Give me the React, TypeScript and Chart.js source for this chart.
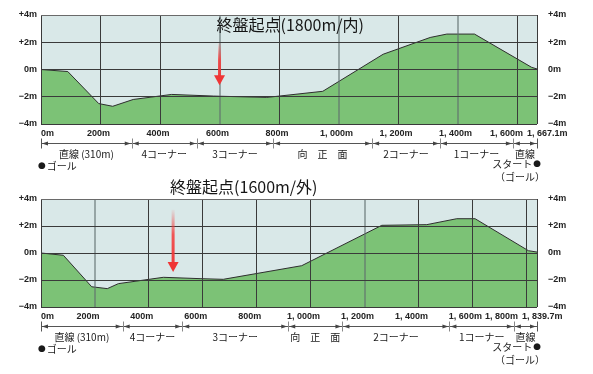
import React, { useEffect, useRef } from 'react';
import { Chart, registerables } from 'chart.js';

Chart.register(...registerables);

// ---- Course A: 終盤起点 1800m / 内 ----
const DIST_A = [0, 90, 194, 241, 310, 439, 580, 759, 947, 1150, 1308, 1364, 1457, 1649, 1667.1];
const ELEV_A = [0, -0.15, -2.5, -2.7, -2.2, -1.83, -1.95, -2.05, -1.6, 1.12, 2.35, 2.6, 2.6, 0.16, 0.04];
const GRID_A = [0, 200, 400, 600, 800, 1000, 1200, 1400, 1600];
const MAX_A = 1667.1;
const GREY_A = [600, 1000, 1400];
const XLABELS_A = ['0m', '200m', '400m', '600m', '800m', '1, 000m', '1, 200m', '1, 400m', '1, 600m', '1, 667.1m'];
const SECTIONS_A = [0, 305, 524, 780, 1113, 1341, 1586, 1667.1];
const TITLE_A = '終盤起点(1800m/内)';
const MARK_A = 600;

// ---- Course B: 終盤起点 1600m / 外 ----
const DIST_B = [0, 83, 188, 246, 287, 454, 590, 676, 967, 1264, 1431, 1542, 1610, 1808, 1839.7];
const ELEV_B = [0, -0.17, -2.5, -2.64, -2.27, -1.8, -1.9, -1.95, -0.94, 2.05, 2.1, 2.54, 2.54, 0.17, 0.07];
const GRID_B = [0, 200, 400, 600, 800, 1000, 1200, 1400, 1600, 1800];
const MAX_B = 1839.7;
const GREY_B = [200, 1200];
const XLABELS_B = ['0m', '200m', '400m', '600m', '800m', '1, 000m', '1, 200m', '1, 400m', '1, 600m', '1, 800m', '1, 839.7m'];
const SECTIONS_B = [0, 303, 524, 917, 1118, 1515, 1754, 1839.7];
const TITLE_B = '終盤起点(1600m/外)';
const MARK_B = 490;

// ---- shared ----
const SECTION_NAMES = ['直線 (310m)', '4コーナー', '3コーナー', '向　正　面', '2コーナー', '1コーナー', '直線'];
const Y_TICKS = [4, 2, 0, -2, -4];
const Y_LABELS = ['+4m', '+2m', '0m', '−2m', '−4m'];

const JP = '"Noto Sans CJK JP", "Noto Sans", sans-serif';
const NUM = 'bold 9px "Liberation Sans", Arial, sans-serif';
const DOT = '9px "DejaVu Sans", sans-serif';

type Course = {
  dist: number[];
  elev: number[];
  grid: number[];
  max: number;
  grey: number[];
  xlabels: string[];
  sections: number[];
  title: string;
  mark: number;
  arrowFrom: number;
  arrowTo: number;
  titleY: number;
  tickShift: number;
  lastOffset: number;
  width: number;
  height: number;
  padding: { top: number; bottom: number; left: number; right: number };
};

function makePlugin(p: Course) {
  return {
    id: 'courseDecor',
    beforeDraw(chart: any) {
      const { ctx, chartArea: a } = chart;
      ctx.save();
      ctx.fillStyle = '#d9e8e8';
      ctx.fillRect(a.left, a.top, a.right - a.left, a.bottom - a.top);
      ctx.restore();
    },
    afterDraw(chart: any) {
      const { ctx, chartArea: a, scales } = chart;
      const xs = scales.x;
      const ys = scales.y;
      ctx.save();

      // title
      const ax = xs.getPixelForValue(p.mark);
      ctx.font = `16px ${JP}`;
      ctx.fillStyle = '#151515';
      ctx.textAlign = 'left';
      ctx.textBaseline = 'middle';
      ctx.fillText(p.title, ax - 3, p.titleY);

      // arrow
      const y0 = ys.getPixelForValue(p.arrowFrom);
      const y1 = ys.getPixelForValue(p.arrowTo);
      const g = ctx.createLinearGradient(0, y0, 0, y1);
      g.addColorStop(0, 'rgba(244,70,70,0.05)');
      g.addColorStop(0.4, 'rgba(244,60,60,0.85)');
      g.addColorStop(1, '#ef3535');
      ctx.fillStyle = g;
      ctx.fillRect(ax - 1.5, y0, 3, y1 - y0 - 9);
      ctx.beginPath();
      ctx.moveTo(ax - 5.5, y1 - 10);
      ctx.lineTo(ax + 5.5, y1 - 10);
      ctx.lineTo(ax, y1);
      ctx.closePath();
      ctx.fillStyle = '#ef3535';
      ctx.fill();

      // y labels
      ctx.font = NUM;
      ctx.fillStyle = '#222';
      ctx.textBaseline = 'middle';
      Y_TICKS.forEach((v, i) => {
        const y = ys.getPixelForValue(v);
        ctx.textAlign = 'right';
        ctx.fillText(Y_LABELS[i], a.left - 4, y);
        ctx.textAlign = 'left';
        ctx.fillText(Y_LABELS[i], a.right + 11, y);
      });

      // x labels
      const vals = [...p.grid, p.max];
      const ly = a.bottom + 10;
      const n = vals.length;
      const lastX = a.right - p.lastOffset;
      vals.forEach((v, i) => {
        const txt = p.xlabels[i];
        const px = xs.getPixelForValue(v);
        if (i === 0) {
          ctx.textAlign = 'left';
          ctx.fillText(txt, a.left, ly);
        } else if (i === n - 1) {
          ctx.textAlign = 'left';
          ctx.fillText(txt, lastX, ly);
        } else if (i === n - 2) {
          ctx.textAlign = 'right';
          ctx.fillText(txt, lastX - 4, ly);
        } else {
          ctx.textAlign = 'center';
          ctx.fillText(txt, px + p.tickShift, ly);
        }
      });

      // sections line
      const sy = Math.round(a.bottom + 19) + 0.5;
      ctx.strokeStyle = '#555';
      ctx.lineWidth = 1;
      ctx.beginPath();
      ctx.moveTo(a.left, sy);
      ctx.lineTo(a.right, sy);
      ctx.stroke();
      const bpx = p.sections.map((v) => xs.getPixelForValue(v));
      ctx.fillStyle = '#444';
      bpx.forEach((x, i) => {
        ctx.strokeStyle = i === 0 || i === bpx.length - 1 ? '#555' : '#888';
        ctx.beginPath();
        ctx.moveTo(Math.round(x) + 0.5, sy - 5);
        ctx.lineTo(Math.round(x) + 0.5, sy + 5);
        ctx.stroke();
        if (i < bpx.length - 1) {
          const l = x + 1;
          ctx.beginPath();
          ctx.moveTo(l, sy);
          ctx.lineTo(l + 6, sy - 2);
          ctx.lineTo(l + 6, sy + 2);
          ctx.closePath();
          ctx.fill();
        }
        if (i > 0) {
          const r = x - 1;
          ctx.beginPath();
          ctx.moveTo(r, sy);
          ctx.lineTo(r - 6, sy - 2);
          ctx.lineTo(r - 6, sy + 2);
          ctx.closePath();
          ctx.fill();
        }
      });

      ctx.font = `10px ${JP}`;
      ctx.fillStyle = '#1a1a1a';
      ctx.textAlign = 'center';
      ctx.textBaseline = 'middle';
      SECTION_NAMES.forEach((name, i) => {
        const cx = (bpx[i] + bpx[i + 1]) / 2;
        ctx.fillText(name, cx, a.bottom + 30);
      });

      // goal / start notes
      ctx.textAlign = 'left';
      ctx.font = DOT;
      ctx.fillText('●', a.left - 3, a.bottom + 42);
      const dw = ctx.measureText('●').width;
      ctx.font = `10px ${JP}`;
      ctx.fillText('ゴール', a.left - 3 + dw + 1, a.bottom + 42);

      ctx.textAlign = 'right';
      ctx.font = DOT;
      ctx.fillText('●', a.right + 4, a.bottom + 40);
      const dw2 = ctx.measureText('●').width;
      ctx.font = `10px ${JP}`;
      ctx.fillText('スタート', a.right + 4 - dw2 - 1, a.bottom + 40);
      ctx.textAlign = 'center';
      ctx.fillText('（ゴール）', a.right - 17, a.bottom + 53);

      ctx.restore();
    },
  };
}

function makeConfig(p: Course): any {
  const gridSet = [...p.grid, p.max];
  return {
    type: 'line',
    data: {
      datasets: [
        {
          data: p.dist.map((x, i) => ({ x, y: p.elev[i] })),
          borderColor: '#2e2e2e',
          borderWidth: 1,
          backgroundColor: '#7cc276',
          fill: 'start',
          pointRadius: 0,
          tension: 0,
        },
      ],
    },
    options: {
      responsive: false,
      animation: false,
      layout: { padding: p.padding },
      plugins: { legend: { display: false }, tooltip: { enabled: false }, title: { display: false } },
      scales: {
        x: {
          type: 'linear',
          min: 0,
          max: p.max,
          afterBuildTicks: (s: any) => {
            s.ticks = gridSet.map((v) => ({ value: v }));
          },
          afterFit: (s: any) => {
            s.height = 0;
          },
          ticks: { display: false },
          border: { display: false },
          grid: {
            z: 1,
            drawTicks: false,
            color: (c: any) =>
              c.tick && p.grey.includes(c.tick.value) ? 'rgba(95,110,110,0.55)' : '#3a3a3a',
            lineWidth: (c: any) => (c.tick && p.grey.includes(c.tick.value) ? 2 : 1),
          },
        },
        y: {
          type: 'linear',
          min: -4,
          max: 4,
          afterBuildTicks: (s: any) => {
            s.ticks = Y_TICKS.map((v) => ({ value: v }));
          },
          afterFit: (s: any) => {
            s.width = 0;
          },
          ticks: { display: false },
          border: { display: false },
          grid: {
            z: 1,
            drawTicks: false,
            color: (c: any) => (c.tick && c.tick.value === 4 ? '#6a6a6a' : '#3a3a3a'),
            lineWidth: 1,
          },
        },
      },
    },
    plugins: [makePlugin(p)],
  };
}

const COURSE_A: Course = {
  dist: DIST_A,
  elev: ELEV_A,
  grid: GRID_A,
  max: MAX_A,
  grey: GREY_A,
  xlabels: XLABELS_A,
  sections: SECTIONS_A,
  title: TITLE_A,
  mark: MARK_A,
  arrowFrom: 1.95,
  arrowTo: -1.15,
  titleY: 25,
  tickShift: -2,
  lastOffset: 10,
  width: 593,
  height: 184,
  padding: { top: 15, bottom: 60, left: 41, right: 56 },
};

const COURSE_B: Course = {
  dist: DIST_B,
  elev: ELEV_B,
  grid: GRID_B,
  max: MAX_B,
  grey: GREY_B,
  xlabels: XLABELS_B,
  sections: SECTIONS_B,
  title: TITLE_B,
  mark: MARK_B,
  arrowFrom: 3.2,
  arrowTo: -1.4,
  titleY: 11,
  tickShift: -7,
  lastOffset: 15,
  width: 593,
  height: 198,
  padding: { top: 23, bottom: 67, left: 41, right: 56 },
};

function CourseChart({ course, top }: { course: Course; top: number }) {
  const ref = useRef<HTMLCanvasElement>(null);
  useEffect(() => {
    if (!ref.current) return;
    const chart = new Chart(ref.current, makeConfig(course));
    return () => chart.destroy();
  }, [course]);
  return (
    <canvas
      ref={ref}
      width={course.width}
      height={course.height}
      style={{ position: 'absolute', left: 0, top, width: course.width, height: course.height }}
    />
  );
}

export default function App() {
  return (
    <div style={{ position: 'absolute', left: 0, top: 0, width: 593, height: 374, background: '#fff' }}>
      <CourseChart course={COURSE_A} top={0} />
      <CourseChart course={COURSE_B} top={176} />
    </div>
  );
}
